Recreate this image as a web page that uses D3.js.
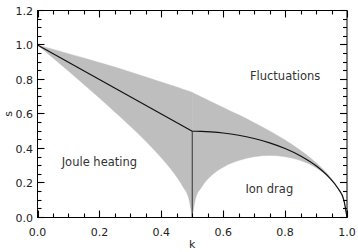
<!DOCTYPE html>
<html lang="en">
<head>
<meta charset="UTF-8">
<title>s vs k regimes</title>
<style>
  body { margin: 0; background: #fff; }
  svg { display: block; }
  text { font-family: "DejaVu Sans", sans-serif; fill: #222; }
  .ticklbl { font-size: 11px; }
  .lbl { font-size: 11.5px; fill: #333; }
</style>
</head>
<body>
<div id="chart"></div>
<script src="https://d3js.org/d3.v7.min.js"></script>
<script>
// Ticks
const xTicks = [0, 0.2, 0.4, 0.6, 0.8, 1.0];
const yTicks = [0, 0.2, 0.4, 0.6, 0.8, 1.0, 1.2];

// Grey band, left half (k <= 0.5)
const bandLeftK     = [0, 0.05, 0.1, 0.15, 0.2, 0.25, 0.3, 0.35, 0.4, 0.44, 0.47, 0.49, 0.5];
const bandLeftUpper = [1.00, 0.975, 0.950, 0.925, 0.898, 0.872, 0.844, 0.815, 0.785, 0.762, 0.744, 0.732, 0.725];
const bandLeftLower = [1.00, 0.925, 0.849, 0.771, 0.693, 0.612, 0.529, 0.442, 0.346, 0.259, 0.178, 0.101, 0.0];

// Grey band, right half (k >= 0.5)
const bandRightK     = [0.5, 0.51, 0.53, 0.56, 0.6, 0.65, 0.7, 0.75, 0.8, 0.85, 0.9, 0.94, 0.97, 0.99, 1.0];
const bandRightUpper = [0.725, 0.716, 0.698, 0.672, 0.638, 0.595, 0.550, 0.502, 0.449, 0.389, 0.318, 0.246, 0.173, 0.100, 0.0];
const bandRightLower = [0.0, 0.105, 0.175, 0.240, 0.292, 0.330, 0.352, 0.360, 0.352, 0.330, 0.288, 0.232, 0.168, 0.099, 0.0];

// Black boundary lines
const jouleLineK = [0, 0.5];
const jouleLineS = [1.0, 0.5];
const splitLineK = [0.5, 0.5];
const splitLineS = [0.0, 0.5];
const ionCurveK = [0.5, 0.51, 0.53, 0.56, 0.6, 0.65, 0.7, 0.75, 0.8, 0.85, 0.9, 0.94, 0.97, 0.99, 1.0];
const ionCurveS = [0.5, 0.500, 0.499, 0.496, 0.490, 0.477, 0.458, 0.433, 0.400, 0.357, 0.300, 0.237, 0.171, 0.0995, 0.0];

const width = 358, height = 252;
const mLeft = 37.5, mRight = 347, mTop = 10.5, mBottom = 217.5;
const majorLen = 7, minorLen = 4;

const svg = d3.select("#chart").append("svg")
  .attr("width", width)
  .attr("height", height);

const x = d3.scaleLinear().domain([0, 1]).range([mLeft, mRight]);
const y = d3.scaleLinear().domain([0, 1.2]).range([mBottom, mTop]);

// grey band
const area = d3.area()
  .x(d => x(d.k))
  .y0(d => y(d.lo))
  .y1(d => y(d.hi))
  .curve(d3.curveMonotoneX);

const leftBand = bandLeftK.map((k, i) => ({k, lo: bandLeftLower[i], hi: bandLeftUpper[i]}));
const rightBand = bandRightK.map((k, i) => ({k, lo: bandRightLower[i], hi: bandRightUpper[i]}));

[leftBand, rightBand].forEach(b => {
  svg.append("path")
    .attr("d", area(b))
    .attr("fill", "#bebebe")
    .attr("stroke", "#bebebe")
    .attr("stroke-width", 0.4);
});

// black lines
const line = d3.line().x(d => x(d[0])).y(d => y(d[1]));
const lineMono = d3.line().x(d => x(d[0])).y(d => y(d[1])).curve(d3.curveMonotoneX);

svg.append("path")
  .attr("d", line(d3.zip(jouleLineK, jouleLineS)))
  .attr("fill", "none").attr("stroke", "#111").attr("stroke-width", 1.2);

svg.append("path")
  .attr("d", line(d3.zip(splitLineK, splitLineS)))
  .attr("fill", "none").attr("stroke", "#333").attr("stroke-width", 1);

svg.append("path")
  .attr("d", lineMono(d3.zip(ionCurveK, ionCurveS)))
  .attr("fill", "none").attr("stroke", "#111").attr("stroke-width", 1.2);

// ticks, pointing inward on all four sides
const fmt = d3.format(".1f");
const xMinor = d3.range(0, 1.0001, 0.05);
const yMinor = d3.range(0, 1.2001, 0.05);
const isMajor = v => Math.abs(v * 5 - Math.round(v * 5)) < 1e-6;

const tg = svg.append("g").attr("stroke", "#000").attr("stroke-width", 1.1);

xMinor.forEach(v => {
  const len = isMajor(v) ? majorLen : minorLen;
  const px = Math.round(x(v)) + 0.5;
  tg.append("line").attr("x1", px).attr("x2", px).attr("y1", mBottom).attr("y2", mBottom - len);
  tg.append("line").attr("x1", px).attr("x2", px).attr("y1", mTop).attr("y2", mTop + len);
});
yMinor.forEach(v => {
  const len = isMajor(v) ? majorLen : minorLen;
  const py = Math.round(y(v) - 0.5) + 0.5;
  tg.append("line").attr("y1", py).attr("y2", py).attr("x1", mLeft).attr("x2", mLeft + len);
  tg.append("line").attr("y1", py).attr("y2", py).attr("x1", mRight).attr("x2", mRight - len);
});

// frame
svg.append("rect")
  .attr("x", mLeft).attr("y", mTop)
  .attr("width", mRight - mLeft).attr("height", mBottom - mTop)
  .attr("fill", "none").attr("stroke", "#000").attr("stroke-width", 1);

// tick labels
svg.selectAll(".xl").data(xTicks).enter().append("text")
  .attr("class", "ticklbl")
  .attr("x", d => x(d)).attr("y", 235.5)
  .attr("text-anchor", "middle")
  .text(fmt);

svg.selectAll(".yl").data(yTicks).enter().append("text")
  .attr("class", "ticklbl")
  .attr("x", mLeft - 4.5).attr("y", d => y(d) + 4)
  .attr("text-anchor", "end")
  .text(fmt);

// axis titles
svg.append("text")
  .attr("x", x(0.5)).attr("y", 248)
  .attr("text-anchor", "middle")
  .style("font-size", "11px")
  .text("k");

svg.append("text")
  .attr("transform", `translate(11.5,${y(0.6)}) rotate(-90)`)
  .attr("text-anchor", "middle")
  .style("font-size", "11px")
  .text("s");

// region labels
svg.append("text").attr("class", "lbl")
  .attr("x", x(0.8)).attr("y", y(0.797))
  .attr("text-anchor", "middle").text("Fluctuations");
svg.append("text").attr("class", "lbl")
  .attr("x", x(0.2)).attr("y", y(0.296))
  .attr("text-anchor", "middle").text("Joule heating");
svg.append("text").attr("class", "lbl")
  .attr("x", x(0.749)).attr("y", y(0.142))
  .attr("text-anchor", "middle").text("Ion drag");
</script>
</body>
</html>
